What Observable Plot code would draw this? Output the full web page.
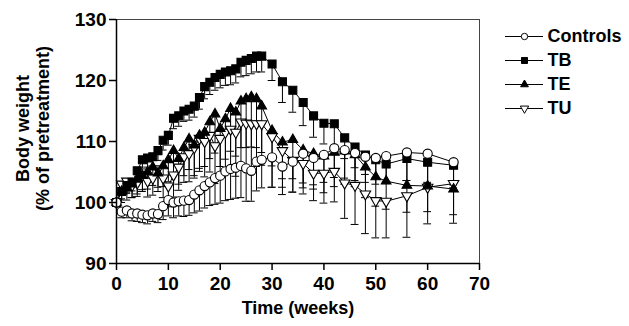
<!DOCTYPE html>
<html>
<head>
<meta charset="utf-8">
<script src="https://cdn.jsdelivr.net/npm/d3@7"></script>
<script src="https://cdn.jsdelivr.net/npm/@observablehq/plot@0.6"></script>
<style>
  html, body { margin: 0; padding: 0; background: #fff; }
  #wrap { position: relative; width: 629px; height: 326px; overflow: hidden; }
  #legend { position: absolute; left: 497px; top: 23px; }
</style>
</head>
<body>
<div id="wrap"><div id="chart"></div><div id="legend"></div></div>
<script>
const weeks = [0,1,2,3,4,5,6,7,8,9,10,11,12,13,14,15,16,17,18,19,20,21,22,23,24,25,26,27,28,
  30,32,34,36,38,40,42,44,46,48,50,52,
  56,60,65];

const controls = [100.0, 98.5, 98.7, 98.2, 98.2, 98.0, 97.9, 98.2, 98.1, 99.4, 100.4, 100.0, 100.2, 100.3, 100.4, 101.3, 102.0, 102.7, 103.3, 104.0, 104.4, 105.1, 105.5, 105.7, 106.0, 105.6, 105.2, 106.7, 107.0,
  107.4, 105.9, 106.7, 108.0, 107.3, 107.8, 108.9, 108.6, 108.1, 107.5, 107.3, 107.6,
  108.2, 108.0, 106.6];
const controlsErr = [0, 1.0, 1.2, 1.2, 1.3, 1.3, 1.4, 1.3, 1.4, 2.2, 2.6, 2.5, 2.4, 2.6, 2.5, 3.0, 3.4, 3.6, 3.8, 4.3, 4.5, 4.8, 5.0, 5.0, 5.2, 5.4, 5.0, 4.8, 4.6,
  4.9, 4.6, 5.0, 4.8, 4.4, 4.5, 4.8, 4.6, 4.5, 4.2, 4.3, 4.5,
  4.6, 4.7, 4.2];

const tb = [100.0, 101.8, 102.8, 103.3, 105.2, 107.0, 107.3, 107.5, 108.5, 110.2, 111.0, 113.8, 114.2, 115.0, 115.3, 115.8, 117.2, 119.0, 119.7, 120.5, 121.0, 121.4, 121.6, 121.9, 123.0, 123.3, 123.6, 124.0, 124.0,
  122.7, 119.8, 118.4, 116.4, 114.2, 113.0, 112.9, 110.6, 109.1, 107.8, 107.0, 106.3,
  107.2, 106.6, 106.1];
const tbErr = [0, 1.2, 1.3, 1.4, 1.4, 1.5, 1.5, 1.5, 1.6, 1.6, 1.6, 1.7, 1.7, 1.7, 1.8, 1.8, 1.9, 2.0, 2.0, 2.1, 2.2, 2.2, 2.3, 2.3, 2.4, 2.5, 2.5, 2.6, 2.6,
  2.7, 3.4, 3.6, 3.8, 3.5, 3.4, 4.2, 3.4, 3.4, 3.2, 3.0, 2.9,
  3.6, 3.5, 3.2];

const te = [100.0, 101.8, 102.4, 103.0, 103.8, 104.4, 105.0, 105.8, 104.8, 106.0, 107.0, 108.5, 107.2, 109.0, 110.4, 109.4, 111.0, 111.5, 113.2, 114.5, 112.1, 113.7, 115.4, 114.8, 116.6, 117.0, 117.3, 117.0, 115.8,
  111.8, 109.9, 110.3, 108.6, 108.0, 107.6, 108.2, 108.4, 107.8, 105.8, 104.2, 103.5,
  102.8, 102.7, 102.2];
const teErr = [0, 1.8, 2.0, 2.2, 2.4, 2.6, 2.8, 3.0, 3.0, 3.4, 3.6, 4.0, 4.2, 4.6, 5.0, 5.0, 5.4, 5.6, 6.0, 6.4, 6.2, 6.6, 7.0, 7.2, 7.6, 8.0, 8.2, 8.0, 7.6,
  5.8, 6.0, 6.4, 6.2, 5.8, 6.0, 5.6, 5.4, 5.2, 5.0, 4.8, 4.6,
  4.4, 4.2, 4.2];

const tu = [100.0, 103.0, 103.5, 102.8, 103.2, 104.5, 103.5, 104.0, 105.5, 104.0, 102.7, 104.5, 105.8, 107.5, 108.0, 109.0, 110.5, 110.0, 111.0, 109.3, 110.5, 111.5, 112.0, 111.5, 113.2, 113.0, 112.9, 112.9, 112.9,
  110.8, 108.5, 106.9, 106.4, 104.8, 104.8, 105.1, 103.2, 102.8, 101.4, 100.3, 100.2,
  101.1, 102.5, 103.1];
const tuErr = [0, 1.6, 1.8, 2.0, 2.2, 2.4, 2.6, 2.8, 3.0, 3.2, 3.4, 3.6, 3.8, 4.2, 4.6, 5.0, 5.4, 5.8, 6.0, 6.2, 6.4, 6.6, 7.0, 7.2, 7.4, 7.2, 7.0, 7.0, 6.8,
  8.3, 6.0, 5.2, 5.0, 4.5, 4.9, 5.0, 5.8, 6.4, 6.5, 6.1, 6.0,
  6.8, 6.0, 6.5];

const seriesNames = ["Controls", "TB", "TE", "TU"];
const xTicks = [0, 10, 20, 30, 40, 50, 60, 70];
const yTicks = [90, 100, 110, 120, 130];
const xLabel = "Time (weeks)";
const yLabel = "Body weight\n(% of pretreatment)";

const FONT = "'Liberation Sans', Arial, Helvetica, sans-serif";

// inverted triangle symbol (same geometry as d3.symbolTriangle, flipped)
const triangleDown = {
  draw(context, size) {
    const y = -Math.sqrt(size / (Math.sqrt(3) * 3));
    context.moveTo(0, -y * 2);
    context.lineTo(-Math.sqrt(3) * y, y);
    context.lineTo(Math.sqrt(3) * y, y);
    context.closePath();
  }
};

const styles = {
  "Controls": {symbol: "circle", r: 4.6, lr: 3.2, fill: "white"},
  "TB": {symbol: "square", r: 4.5, lr: 3.4, fill: "black"},
  "TE": {symbol: "triangle", r: 3.6, lr: 2.9, fill: "black"},
  "TU": {symbol: triangleDown, r: 3.9, lr: 3.1, fill: "white"}
};

const valuesBy = {Controls: controls, TB: tb, TE: te, TU: tu};
const errBy = {Controls: controlsErr, TB: tbErr, TE: teErr, TU: tuErr};

const rows = seriesNames.flatMap(s => weeks.map((w, i) => ({series: s, week: w, value: valuesBy[s][i], err: errBy[s][i]})));
const rowsOf = s => rows.filter(d => d.series === s);
const barRows = rows.filter(d => d.err > 0);

const marks = [];
// error bars (lower only)
marks.push(Plot.ruleX(barRows, {x: "week", y1: "value", y2: d => d.value - d.err, stroke: "black", strokeWidth: 1}));
marks.push(Plot.ruleY(barRows, {y: d => d.value - d.err, x1: d => d.week - 0.75, x2: d => d.week + 0.75, stroke: "black", strokeWidth: 1}));
// lines
for (const s of seriesNames) {
  marks.push(Plot.line(rowsOf(s), {x: "week", y: "value", stroke: "black", strokeWidth: 1}));
}
// symbols
for (const s of ["TU", "TE", "TB", "Controls"]) {
  const st = styles[s];
  marks.push(Plot.dot(rowsOf(s), {x: "week", y: "value", symbol: () => st.symbol, r: st.r, fill: st.fill, stroke: "black", strokeWidth: 1.1}));
}
// frame / axes lines
marks.push(Plot.ruleY([130], {stroke: "#444", strokeWidth: 1}));
marks.push(Plot.ruleX([70], {stroke: "#444", strokeWidth: 1}));
marks.push(Plot.ruleX([0], {stroke: "black", strokeWidth: 1.5}));
marks.push(Plot.ruleY([90], {stroke: "black", strokeWidth: 1.5}));
marks.push(Plot.axisY({ticks: yTicks, tickSize: 7, tickPadding: 3, label: null, strokeWidth: 1.5, fontSize: 19, fontWeight: "bold"}));
marks.push(Plot.axisX({ticks: xTicks, tickSize: 7, tickPadding: 6, label: null, strokeWidth: 1.5, fontSize: 19, fontWeight: "bold"}));
marks.push(Plot.text([xLabel], {frameAnchor: "bottom", dy: 50, fontSize: 18, fontWeight: "bold"}));
marks.push(Plot.text([yLabel], {frameAnchor: "left", textAnchor: "middle", lineAnchor: "middle", dx: -84, dy: -13, rotate: -90, fontSize: 18, fontWeight: "bold", lineHeight: 1.1}));

const chart = Plot.plot({
  width: 629,
  height: 326,
  marginLeft: 116,
  marginRight: 150,
  marginTop: 19,
  marginBottom: 63,
  x: {domain: [0, 70]},
  y: {domain: [90, 130]},
  style: {fontFamily: FONT, fontWeight: "bold", color: "black", background: "white", overflow: "visible"},
  marks
});
document.getElementById("chart").append(chart);

// legend
const legend = Plot.plot({
  width: 132,
  height: 100,
  marginLeft: 8,
  marginRight: 86,
  marginTop: 12,
  marginBottom: 14,
  x: {domain: [0, 1], axis: null},
  y: {type: "point", domain: seriesNames, axis: null, padding: 0},
  style: {fontFamily: FONT, fontWeight: "bold", color: "black", background: "transparent", overflow: "visible"},
  marks: [
    Plot.ruleY(seriesNames, {y: d => d, x1: 0, x2: 1, stroke: "black", strokeWidth: 1}),
    ...seriesNames.map(s => Plot.dot([s], {x: 0.5, y: d => d, symbol: () => styles[s].symbol, r: styles[s].lr, fill: styles[s].fill, stroke: "black", strokeWidth: 1})),
    Plot.text(seriesNames, {x: 1, y: d => d, dx: 4, textAnchor: "start", fontSize: 18, fontWeight: "bold"})
  ]
});
document.getElementById("legend").append(legend);
</script>
</body>
</html>
